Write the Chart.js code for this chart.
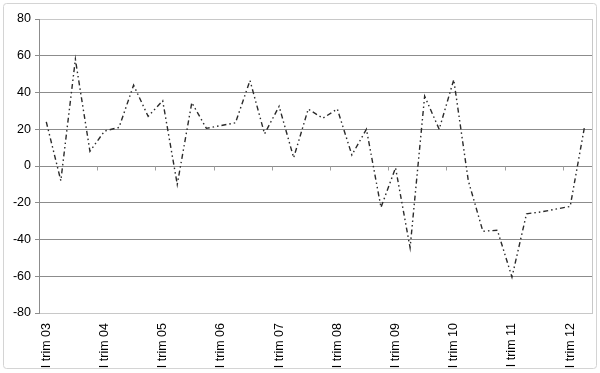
<!DOCTYPE html>
<html>
<head>
<meta charset="utf-8">
<script src="https://cdn.jsdelivr.net/npm/chart.js@4"></script>
<style>
  html, body { margin: 0; padding: 0; background: #ffffff; }
  #wrap { position: relative; width: 600px; height: 373px; }
</style>
</head>
<body>
<div id="wrap"><canvas id="trimChart" width="600" height="373"></canvas></div>
<script>
// quarters and years -> category labels
const quarters = ["I", "II", "III", "IV"]
const years = ["03", "04", "05", "06", "07", "08", "09", "10", "11", "12"]
const categories = []
years.forEach((yr) => quarters.forEach((q) => categories.push(q + " trim " + yr)))
categories.length = 38 // series ends at II trim 12

const values = [
  24, -8, 58, 8, 19, 21, 44, 27, 35.5, -10,
  34.5, 20.5, 22, 23.5, 46.5, 17.5, 32.5, 4.5, 31, 26,
  31, 6, 20, -22.5, -1, -44.5, 38, 20, 47, -8,
  -35.5, -35, -60.5, -26, -25, -23.5, -22, 22,
]

const yTicks = [-80, -60, -40, -20, 0, 20, 40, 60, 80]

const fontFamily = "'Liberation Sans', Arial, sans-serif"

// outer frame + right border + small marks on the zero line
const framePlugin = {
  id: "frame",
  beforeDraw(chart) {
    const ctx = chart.ctx
    ctx.save()
    ctx.fillStyle = "#ffffff"
    ctx.fillRect(0, 0, chart.width, chart.height)
    ctx.strokeStyle = "#d4d4d4"
    ctx.lineWidth = 1
    ctx.beginPath()
    ctx.roundRect(3.5, 3.5, chart.width - 7, chart.height - 8, 3)
    ctx.stroke()
    ctx.restore()
  },
  beforeDatasetsDraw(chart) {
    const { ctx, chartArea, scales } = chart
    const x = scales.x
    const y = scales.y
    ctx.save()
    ctx.strokeStyle = "#c8c8c8"
    ctx.lineWidth = 1
    ctx.beginPath()
    ctx.moveTo(Math.round(chartArea.right) + 0.5, chartArea.top)
    ctx.lineTo(Math.round(chartArea.right) + 0.5, chartArea.bottom)
    ctx.stroke()

    const zeroY = Math.round(y.getPixelForValue(0)) + 0.5
    const half = (x.getPixelForValue(1) - x.getPixelForValue(0)) / 2
    ctx.strokeStyle = "#a0a0a0"
    ctx.beginPath()
    for (let i = 4; i < categories.length; i += 4) {
      const px = Math.round(x.getPixelForValue(i) - half) + 0.5
      ctx.moveTo(px, zeroY)
      ctx.lineTo(px, zeroY + 4)
    }
    ctx.stroke()
    ctx.restore()
  },
}

new Chart(document.getElementById("trimChart"), {
  type: "line",
  data: {
    labels: categories,
    datasets: [
      {
        data: values,
        borderColor: "#2a2a2a",
        borderWidth: 1.4,
        borderDash: [5, 3, 1.5, 3, 1.5, 3],
        pointRadius: 0,
        tension: 0,
        fill: false,
      },
    ],
  },
  options: {
    responsive: false,
    animation: false,
    layout: { padding: { left: 0, right: 8, top: 19, bottom: 4 } },
    plugins: {
      legend: { display: false },
      tooltip: { enabled: false },
    },
    scales: {
      x: {
        offset: true,
        grid: { display: false, drawTicks: false },
        border: { display: true, color: "#c8c8c8" },
        afterFit: (scale) => {
          scale.height = 56
          scale.paddingLeft = 0
          scale.paddingRight = 0
        },
        ticks: {
          autoSkip: false,
          maxRotation: 90,
          minRotation: 90,
          padding: 10,
          color: "#000000",
          font: { family: fontFamily, size: 12.5 },
          callback: (val, idx) => (idx % 4 === 0 ? categories[idx] : ""),
        },
      },
      y: {
        min: -80,
        max: 80,
        afterBuildTicks: (scale) => {
          scale.ticks = yTicks.map((v) => ({ value: v }))
        },
        afterFit: (scale) => {
          scale.width = 39
          scale.paddingTop = 0
          scale.paddingBottom = 0
        },
        grid: {
          color: (c) => (c.tick && Math.abs(c.tick.value) === 80 ? "#c8c8c8" : "#8c8c8c"),
          tickColor: "#8c8c8c",
          tickLength: 4,
          lineWidth: 1,
        },
        border: { display: true, color: "#8c8c8c" },
        ticks: {
          padding: 4,
          color: "#000000",
          font: { family: fontFamily, size: 12.5 },
        },
      },
    },
  },
  plugins: [framePlugin],
})
</script>
</body>
</html>
